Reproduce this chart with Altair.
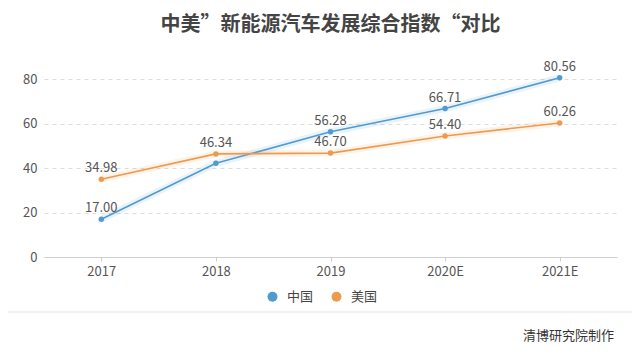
import altair as alt
import pandas as pd

years = ["2017", "2018", "2019", "2020E", "2021E"]
china = [17.00, 42.1, 56.28, 66.71, 80.56]
usa = [34.98, 46.34, 46.70, 54.40, 60.26]
china_labels = ["17.00", "", "56.28", "66.71", "80.56"]
usa_labels = ["34.98", "46.34", "46.70", "54.40", "60.26"]
series = ["中国", "美国"]
colors = ["#4f9bd1", "#ee9a4e"]
title_text = "中美”新能源汽车发展综合指数“对比"
source_text = "清博研究院制作"

rows = []
for i, y in enumerate(years):
    rows.append({"year": y, "country": series[0], "value": china[i], "label": china_labels[i]})
    rows.append({"year": y, "country": series[1], "value": usa[i], "label": usa_labels[i]})
df = pd.DataFrame(rows)

FONT = "Noto Sans CJK SC"
W, H = 573, 178

x = alt.X("year:N", sort=years, title=None,
          scale=alt.Scale(type="point", padding=0.5),
          axis=alt.Axis(labelAngle=0, labelFontSize=13, labelColor="#555", labelFont=FONT,
                        domainColor="#cfcfcf", tickColor="#cfcfcf", tickSize=4,
                        labelPadding=4, grid=False))
y = alt.Y("value:Q", title=None,
          scale=alt.Scale(domain=[0, 80], nice=False),
          axis=alt.Axis(values=[0, 20, 40, 60, 80], labelFontSize=13, labelColor="#555",
                        labelFont=FONT, domain=False, ticks=False, labelPadding=7,
                        grid=True, gridColor="#dcdcdc", gridDash=[4, 4]))
color = alt.Color("country:N", sort=series,
                  scale=alt.Scale(domain=series, range=colors),
                  legend=alt.Legend(title=None, orient="none", direction="horizontal",
                                    legendX=222, legendY=211, symbolType="circle",
                                    symbolSize=100, symbolStrokeWidth=0, labelFontSize=13,
                                    labelColor="#444", labelFont=FONT, labelOffset=8,
                                    columnPadding=16, symbolOpacity=1))

base = alt.Chart(df)

glow = base.mark_line(strokeWidth=7, opacity=0.12, clip=False).encode(x=x, y=y, color=color)
line = base.mark_line(strokeWidth=1.6, clip=False).encode(x=x, y=y, color=color)
pts = base.mark_point(filled=True, size=30, opacity=1, clip=False).encode(x=x, y=y, color=color)
labels = base.mark_text(baseline="bottom", dy=-4, fontSize=13, color="#555", font=FONT).encode(
    x=x, y=y, text="label:N")

sep = alt.Chart(pd.DataFrame({"a": [0]})).mark_rule(color="#e3e3e3", strokeWidth=1).encode(
    x=alt.value(-44), x2=alt.value(600), y=alt.value(233), y2=alt.value(233))
src = alt.Chart(pd.DataFrame({"t": [source_text]})).mark_text(
    align="right", baseline="middle", fontSize=13, color="#333", font=FONT).encode(
    x=alt.value(570), y=alt.value(257), text="t:N")

chart = alt.layer(glow, line, pts, labels, sep, src).properties(
    width=W, height=H,
    title=alt.TitleParams(title_text, fontSize=20, font=FONT, fontWeight="bold",
                          color="#444", anchor="middle", offset=26),
    autosize=alt.AutoSizeParams(type="none"),
    padding={"left": 36, "top": 71, "right": 15, "bottom": 98},
    background="white",
).configure_view(stroke=None, strokeWidth=0).configure_axisY(domain=False)

chart.save("out.html", embed_options={"renderer": "svg", "actions": False})
